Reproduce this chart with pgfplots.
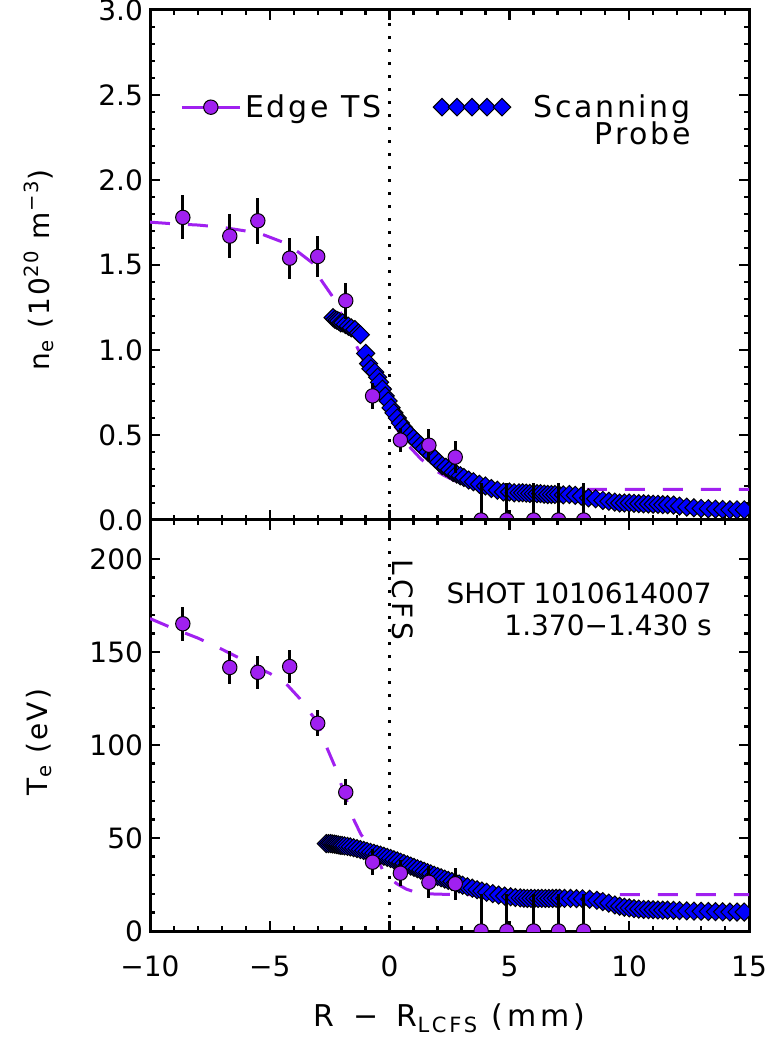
\documentclass[border=0pt]{standalone}
\usepackage{fontspec}
\setmainfont{DejaVu Sans}
\newfontfamily\legfont{DejaVu Sans}[LetterSpace=9]
\newfontfamily\labfont{DejaVu Sans}[LetterSpace=8]
\newfontfamily\xlabfont{DejaVu Sans}[LetterSpace=13]
\newfontfamily\lcfsfont{DejaVu Sans}[LetterSpace=15]
\usepackage{pgfplots}
\pgfplotsset{compat=1.18}
\usepackage{pgfplotstable}
\usetikzlibrary{calc}
\definecolor{tspurple}{RGB}{160,32,240}
\definecolor{spblue}{RGB}{0,0,255}

\pgfplotstableread{
x y err
-8.63 1.78 0.13
-6.67 1.67 0.13
-5.50 1.76 0.137
-4.17 1.54 0.12
-3.00 1.55 0.123
-1.83 1.29 0.105
-0.71 0.73 0.076
0.45 0.47 0.07
1.64 0.44 0.095
2.74 0.37 0.093
3.82 0 0.22
4.89 0 0.22
6.01 0 0.22
7.05 0 0.22
8.10 0 0.22
}\tsne

\pgfplotstableread{
x y err
-8.63 165.2 9
-6.67 141.7 9
-5.50 139.1 9
-4.17 142.2 9
-3.00 111.7 7
-1.83 74.6 7
-0.71 37.0 7
0.45 31.1 7
1.64 26.2 8.5
2.74 25.4 8.5
3.82 0 20
4.89 0 20
6.01 0 20
7.05 0 20
8.10 0 20
}\tste

\pgfplotstableread{
x y
-10 1.752
-9 1.742
-8 1.735
-7 1.722
-6 1.70
-5.4 1.685
-4.45 1.634
-3.8 1.575
-3.2 1.51
-2.85 1.41
-2.36 1.31
-1.8 1.15
-1.3 1.0
-0.8 0.85
-0.3 0.68
0.2 0.56
0.7 0.45
1.3 0.36
1.8 0.30
2.3 0.26
2.8 0.225
3.5 0.20
4.5 0.185
6 0.18
15 0.18
}\fitne

\pgfplotstableread{
x y
-10 168
-9 162.5
-8 157.5
-7 151.5
-6 145
-5.5 141.5
-5 138.5
-4.5 135
-4.25 132
-4 128.5
-3.75 125
-3.5 120.5
-3.2 115.5
-3 111
-2.6 98
-2.2 86
-1.9 74
-1.5 60
-1.2 52
-0.8 45
-0.5 39
-0.3 33
0 28.5
0.3 25.4
0.7 22.5
1.1 20.8
1.5 20.1
2 19.8
3 19.6
15 19.6
}\fitte

\pgfplotstableread{
x y
-2.36 1.19
-2.28 1.18
-2.20 1.175
-2.12 1.17
-2.04 1.16
-1.96 1.16
-1.85 1.15
-1.72 1.14
-1.60 1.13
-1.45 1.12
-1.30 1.10
-1.22 1.09
-1.00 0.98
-0.88 0.92
-0.78 0.89
-0.62 0.87
-0.50 0.84
-0.42 0.81
-0.30 0.77
-0.18 0.73
-0.06 0.70
0.06 0.66
0.18 0.63
0.32 0.60
0.45 0.57
0.58 0.545
0.72 0.52
0.86 0.50
1.00 0.48
1.15 0.46
1.30 0.44
1.45 0.42
1.60 0.40
1.75 0.38
1.90 0.36
2.05 0.34
2.20 0.32
2.35 0.31
2.50 0.295
2.65 0.28
2.80 0.27
2.95 0.26
3.10 0.25
3.30 0.235
3.50 0.225
3.75 0.21
4.00 0.20
4.25 0.185
4.50 0.175
4.75 0.165
5.00 0.165
5.20 0.16
5.40 0.16
5.55 0.16
5.70 0.158
5.85 0.156
6.00 0.155
6.15 0.155
6.30 0.155
6.45 0.152
6.60 0.15
6.75 0.15
6.90 0.15
7.05 0.15
7.25 0.148
7.50 0.15
7.75 0.145
8.00 0.14
8.30 0.13
8.60 0.125
8.90 0.115
9.15 0.11
9.40 0.105
9.60 0.10
9.80 0.10
10.00 0.10
10.20 0.098
10.40 0.096
10.60 0.095
10.80 0.094
11.00 0.093
11.20 0.092
11.40 0.09
11.60 0.09
11.85 0.088
12.10 0.082
12.40 0.076
12.70 0.072
13.00 0.068
13.30 0.066
13.60 0.064
13.90 0.062
14.20 0.06
14.50 0.06
14.80 0.06
}\probene

\pgfplotstableread{
x y
-2.64 47
-2.55 47
-2.46 47
-2.38 46.8
-2.30 46.7
-2.22 46.5
-2.14 46.3
-2.06 46.1
-1.98 46
-1.88 45.8
-1.76 45.5
-1.64 45.2
-1.50 44.8
-1.36 44.3
-1.22 43.8
-1.08 43.3
-0.94 42.8
-0.80 42.3
-0.66 41.8
-0.52 41.3
-0.38 40.8
-0.24 40.2
-0.10 39.6
0.04 39
0.18 38.3
0.32 37.7
0.46 37
0.60 36.3
0.74 35.6
0.88 34.9
1.02 34.2
1.16 33.5
1.30 32.8
1.44 32.1
1.58 31.4
1.72 30.7
1.86 30
2.00 29.3
2.15 28.6
2.30 27.9
2.45 27.2
2.60 26.6
2.75 26
2.90 25.3
3.05 24.6
3.25 23.8
3.45 23
3.65 22.2
3.85 21.5
4.05 20.8
4.30 20.1
4.55 19.3
4.80 18.8
5.05 18.4
5.25 18
5.45 17.8
5.60 17.6
5.75 17.5
5.90 17.5
6.05 17.5
6.20 17.5
6.35 17.5
6.50 17.5
6.65 17.5
6.80 17.5
6.95 17.6
7.10 17.6
7.30 17.5
7.55 17.5
7.80 17.4
8.05 17.3
8.35 17.1
8.65 16.5
8.90 15.8
9.15 15
9.40 14
9.60 13.3
9.80 12.8
10.00 12.4
10.20 12
10.40 11.8
10.60 11.6
10.80 11.5
11.00 11.4
11.20 11.3
11.40 11.2
11.60 11.2
11.85 11.1
12.10 11
12.40 10.8
12.70 10.7
13.00 10.6
13.30 10.5
13.60 10.4
13.90 10.3
14.20 10.2
14.50 10.2
14.80 10.2
}\probete

\pgfplotsset{
  panel/.style={
    scale only axis, width=299.5pt, xmin=-10, xmax=15,
    axis line style={line width=1.5pt},
    every tick/.style={black, line width=1.2pt},
    major tick length=5pt, minor tick length=2.5pt,
    tick align=inside,
    xtick={-10,-5,0,5,10,15}, minor x tick num=4, minor y tick num=4,
    clip marker paths=true,
    tick label style={font=\fontsize{14}{16}\selectfont},
    label style={font=\labfont\fontsize{14}{16}\selectfont},
  },
  tsfit/.style={tspurple, line width=1.5pt, dash pattern=on 10pt off 9pt, no marks},
  probe/.style={only marks, mark=square*, mark size=3.2pt,
    mark options={rotate=45, fill=spblue, draw=black, line width=0.5pt}},
  ts/.style={only marks, mark=*, mark size=3.6pt,
    mark options={fill=tspurple, draw=black, line width=0.5pt},
    error bars/y dir=both, error bars/y explicit, error bars/error mark=none,
    error bars/error bar style={black, line width=1.5pt}},
  lcfs/.style={black, line width=1.5pt, dash pattern=on 1.5pt off 5pt, no marks},
}

\begin{document}
\begin{tikzpicture}
\begin{axis}[panel, name=top, height=255pt,
  ymin=0, ymax=3,
  ytick={0,0.5,1,1.5,2,2.5,3},
  yticklabels={0.0,0.5,1.0,1.5,2.0,2.5,3.0},
  xticklabels={},
  ylabel={n\textsubscript{e} (10\textsuperscript{20} m\textsuperscript{−3})},
  ylabel style={at={(axis description cs:-0.185,0.49)}, anchor=center},
  legend columns=2, legend cell align=right,
  legend style={draw=none, fill=none, inner sep=0pt, row sep=-3pt,
    at={(axis cs:-8.75,2.53)}, anchor=north west,
    font=\legfont\fontsize{15}{17}\selectfont,
    /tikz/every even column/.append style={column sep=24pt}},
]
\addplot[lcfs, forget plot] coordinates {(0,0) (0,3)};
\addplot[tsfit, forget plot] table {\fitne};
\addplot[probe, forget plot] table {\probene};
\addplot[ts, forget plot] table[x=x, y=y, y error=err] {\tsne};
\addlegendimage{legend image code/.code={
  \draw[tspurple, line width=1.5pt] (0pt,0pt) -- (29pt,0pt);
  \draw[only marks, mark=*, mark size=3.6pt, mark options={fill=tspurple, draw=black, line width=0.5pt}] plot coordinates {(14.5pt,0pt)};
}}
\addlegendentry{Edge TS}
\addlegendimage{legend image code/.code={
  \path[draw=none, fill=none] (0pt,0pt) -- (48pt,0pt);
  \draw[only marks, mark=square*, mark size=3.1pt, mark options={rotate=45, fill=spblue, draw=black, line width=0.5pt}] plot coordinates {(4.3pt,0pt) (11.8pt,0pt) (19.3pt,0pt) (26.8pt,0pt) (34.3pt,0pt)};
}}
\addlegendentry{Scanning}
\addlegendimage{empty legend}
\addlegendentry{}
\addlegendimage{empty legend}
\addlegendentry{Probe}
\end{axis}

\begin{axis}[panel, name=bot, height=205.5pt,
  at={(top.south west)}, anchor=north west,
  ymin=0, ymax=221,
  ytick={0,50,100,150,200},
  yticklabels={0,50,100,150,200},
  xticklabels={−10,−5,0,5,10,15},
  xticklabel style={yshift=-9pt},
  ylabel={T\textsubscript{e} (eV)},
  ylabel style={at={(axis description cs:-0.185,0.46)}, anchor=center},
  xlabel={R \,−\, R\textsubscript{LCFS} (mm)},
  xlabel style={at={(axis description cs:0.5,-0.212)}, anchor=center, font=\xlabfont\fontsize{15}{17}\selectfont},
]
\addplot[lcfs] coordinates {(0,0) (0,221)};
\addplot[tsfit] table {\fitte};
\addplot[probe] table {\probete};
\addplot[ts] table[x=x, y=y, y error=err] {\tste};
\node[rotate=-90, anchor=base west, inner sep=0pt, font=\lcfsfont\fontsize{14}{16}\selectfont] at (axis cs:0.1,200) {LCFS};
\node[anchor=east, inner sep=0pt, font=\fontsize{14}{16}\selectfont] at (axis cs:13.46,181.5) {SHOT 1010614007};
\node[anchor=east, inner sep=0pt, font=\fontsize{14}{16}\selectfont] at (axis cs:13.46,164.2) {1.370−1.430 s};
\end{axis}

\pgfresetboundingbox
\path[use as bounding box] ($(top.north west)+(-75pt,5pt)$) rectangle ($(bot.south east)+(11.5pt,-54.5pt)$);
\end{tikzpicture}
\end{document}
